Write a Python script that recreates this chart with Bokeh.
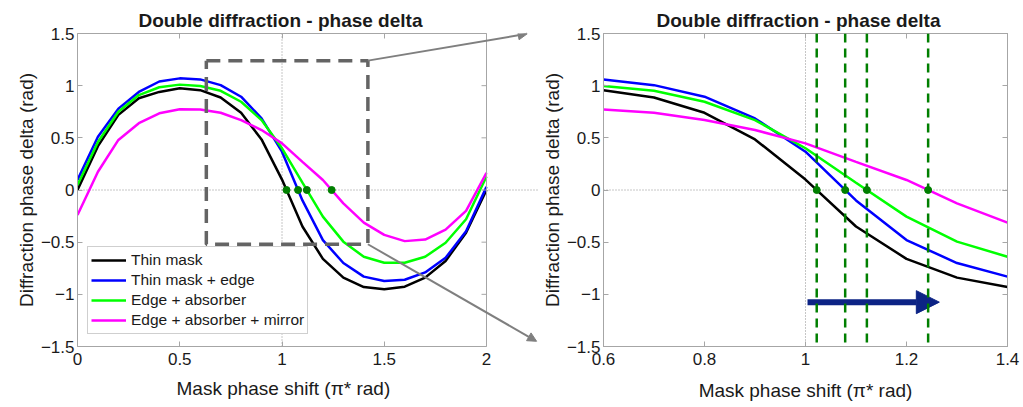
import numpy as np
from bokeh.plotting import figure
from bokeh.layouts import row
from bokeh.models import (Span, Legend, LegendItem, Arrow, NormalHead, FixedTicker,
                          CustomJSTickFormatter, LinearAxis, Range1d, Title)
from bokeh.embed import file_html
from bokeh.resources import INLINE

# ---- data -------------------------------------------------------------
phase_shift = [0.0, 0.1, 0.2, 0.3, 0.4, 0.5, 0.6, 0.7, 0.8, 0.9, 1.0,
               1.1, 1.2, 1.3, 1.4, 1.5, 1.6, 1.7, 1.8, 1.9, 2.0]

thin_mask = [0.0, 0.42, 0.72, 0.88, 0.94, 0.975, 0.957, 0.887, 0.74, 0.485, 0.10,
             -0.35, -0.66, -0.84, -0.93, -0.952, -0.927, -0.84, -0.68, -0.41, 0.0]
thin_mask_edge = [0.096, 0.51, 0.78, 0.94, 1.04, 1.07, 1.06, 1.005, 0.894, 0.686, 0.367,
                  -0.10, -0.48, -0.70, -0.83, -0.873, -0.86, -0.79, -0.65, -0.395, 0.03]
edge_absorber = [0.048, 0.46, 0.75, 0.91, 0.985, 1.01, 0.996, 0.951, 0.846, 0.67, 0.40,
                 0.07, -0.255, -0.495, -0.64, -0.697, -0.697, -0.64, -0.506, -0.28, 0.13]
edge_absorber_mirror = [-0.24, 0.175, 0.48, 0.64, 0.735, 0.773, 0.772, 0.74, 0.67, 0.575, 0.447,
                        0.27, 0.096, -0.128, -0.313, -0.43, -0.49, -0.475, -0.38, -0.2, 0.165]

series = [thin_mask, thin_mask_edge, edge_absorber, edge_absorber_mirror]
series_labels = ["Thin mask", "Thin mask + edge", "Edge + absorber", "Edge + absorber + mirror"]
series_colors = ["#000000", "#0000ff", "#00ff00", "#ff00ff"]

x_ticks_full = [0, 0.5, 1, 1.5, 2]
x_ticks_zoom = [0.6, 0.8, 1.0, 1.2, 1.4]
y_ticks = [-1.5, -1, -0.5, 0, 0.5, 1, 1.5]

TITLE = "Double diffraction - phase delta"
X_LABEL = "Mask phase shift (\u03c0* rad)"
Y_LABEL = "Diffraction phase delta (rad)"

# zoomed window marked on the full-range panel (x0, x1, y0, y1)
zoom_box = (0.63, 1.42, -0.52, 1.24)
# callout arrow tips, in the full-range panel's data units
callout_tips = [(2.199, 1.497), (2.245, -1.45)]
# phase-shift arrow on the zoomed panel: x start, x end, level
shift_arrow = (1.004, 1.265, -1.075)

FONT = "Liberation Sans"
FRAME = "#a6a6a6"
TEXT = "#1a1a1a"
DARK_GREEN = "#007f00"

# page geometry (pixels)
H = 407
LEFT_W, RIGHT_W = 538, 485
BORDER_TOP, BORDER_BOTTOM = 33, 60
L_AXIS = 77            # left edge of the full-range box
L_BOX_RIGHT = 486      # right edge of the full-range box
R_AXIS = 59            # room for the zoomed panel's y axis
R_RIGHT = 16

X_MIN, X_MAX = 0.0, 2.0
Y_MIN, Y_MAX = -1.5, 1.5
# the left canvas frame runs past the box so the callout arrows can leave it
x_frame_max = X_MIN + (X_MAX - X_MIN) * (LEFT_W - L_AXIS) / (L_BOX_RIGHT - L_AXIS)


def zero_crossing(x, y, after=0.5):
    """First descending zero crossing of y(x) beyond `after`, linearly interpolated."""
    for i in range(len(x) - 1):
        if x[i] >= after and y[i] > 0 >= y[i + 1]:
            return x[i] + (x[i + 1] - x[i]) * y[i] / (y[i] - y[i + 1])
    return None


crossings = [zero_crossing(phase_shift, s) for s in series]

fmt = CustomJSTickFormatter(code="""
const v = Math.round(tick * 100) / 100;
return (v < 0 ? "\u2212" : "") + Math.abs(v).toString();
""")


def style_axis(ax, ticks):
    ax.ticker = FixedTicker(ticks=ticks)
    ax.formatter = fmt
    ax.axis_line_color = FRAME
    ax.major_tick_line_color = FRAME
    ax.major_tick_in = 5
    ax.major_tick_out = 0
    ax.minor_tick_line_color = None
    ax.major_label_text_font = FONT
    ax.major_label_text_font_size = "17px"
    ax.major_label_text_color = TEXT
    ax.axis_label_text_font = FONT
    ax.axis_label_text_font_size = "19px"
    ax.axis_label_text_font_style = "normal"
    ax.axis_label_text_color = TEXT


def tick_only_axis(ticks, **kw):
    return LinearAxis(ticker=FixedTicker(ticks=ticks), major_label_text_font_size="1px",
                      major_label_text_color=None, major_label_standoff=0,
                      axis_line_color=FRAME, major_tick_line_color=FRAME,
                      major_tick_in=5, major_tick_out=0, minor_tick_line_color=None, **kw)


def make_panel(width, x_range, border_left, border_right, x_ticks, title_offset):
    p = figure(width=width, height=H, x_range=Range1d(*x_range), y_range=Range1d(Y_MIN, Y_MAX),
               output_backend="svg", toolbar_location=None,
               min_border_left=border_left, min_border_right=border_right,
               min_border_top=BORDER_TOP, min_border_bottom=BORDER_BOTTOM,
               title=TITLE)
    p.title.align = "left"
    p.title.offset = title_offset
    p.title.text_font = FONT
    p.title.text_font_size = "19px"
    p.title.text_font_style = "bold"
    p.title.text_color = TEXT
    p.title.standoff = 6
    p.grid.visible = False
    p.background_fill_color = "white"
    p.border_fill_color = "white"

    style_axis(p.xaxis[0], x_ticks)
    style_axis(p.yaxis[0], y_ticks)
    p.xaxis[0].major_label_standoff = 6
    p.xaxis[0].axis_label_standoff = 12
    p.yaxis[0].axis_label = Y_LABEL
    p.yaxis[0].major_label_standoff = 3
    p.yaxis[0].axis_label_standoff = 1

    # dotted reference lines at zero delta and at a phase shift of pi
    p.add_layout(Span(location=0, dimension="width", line_color="#8c8c8c",
                      line_dash="1 2", line_width=1, level="underlay"))
    p.add_layout(Span(location=1, dimension="height", line_color="#8c8c8c",
                      line_dash="1 2", line_width=1, level="underlay"))

    renderers = []
    for s, c in zip(series, series_colors):
        renderers.append(p.line(phase_shift, s, line_color=c, line_width=2.5))
    return p, renderers


# ---- full-range panel -------------------------------------------------
left, left_lines = make_panel(LEFT_W, (X_MIN, x_frame_max), L_AXIS, 0, x_ticks_full, 61)
left.outline_line_color = None
left.xaxis[0].bounds = (X_MIN, X_MAX)
left.add_layout(tick_only_axis(x_ticks_full, bounds=(X_MIN, X_MAX)), "above")
# right edge of the box with its inward ticks
left.add_layout(Span(location=X_MAX, dimension="height", line_color=FRAME, line_width=1))
left.ray(x=[X_MAX] * len(y_ticks), y=y_ticks, length=5, length_units="screen",
         angle=np.pi, line_color=FRAME, line_width=1)
# x-axis title placed under the box rather than centred on the wider canvas frame
left.add_layout(Title(text=X_LABEL, align="left", offset=99, standoff=17,
                      text_font=FONT, text_font_size="19px", text_font_style="normal",
                      text_color=TEXT), "below")

bx0, bx1, by0, by1 = zoom_box
left.line([bx0, bx1, bx1, bx0, bx0], [by1, by1, by0, by0, by1],
          line_color="#646464", line_width=3.5, line_dash="14 8")

left.scatter(crossings, [0] * len(crossings), size=7, color=DARK_GREEN)

for tx, ty in callout_tips:
    ystart = by1 if ty > 0 else by0
    left.add_layout(Arrow(x_start=bx1, y_start=ystart, x_end=tx, y_end=ty,
                          line_color="#7f7f7f", line_width=2,
                          end=NormalHead(size=9, fill_color="#7f7f7f", line_color="#7f7f7f")))

legend = Legend(items=[LegendItem(label=l, renderers=[r]) for l, r in zip(series_labels, left_lines)],
                location=(10, 12), margin=0, padding=3, spacing=0,
                glyph_width=35, glyph_height=20, label_height=20, label_standoff=5,
                label_text_font=FONT, label_text_font_size="15.5px", label_text_color=TEXT,
                border_line_color="#a0a0a0", border_line_width=1,
                background_fill_color="white", background_fill_alpha=1)
left.add_layout(legend)

# ---- zoomed panel -----------------------------------------------------
right, _ = make_panel(RIGHT_W, (0.6, 1.4), R_AXIS, R_RIGHT, x_ticks_zoom, 53)
right.xaxis[0].axis_label = X_LABEL
right.outline_line_color = FRAME
right.add_layout(tick_only_axis(x_ticks_zoom), "above")
right.add_layout(tick_only_axis(y_ticks), "right")

sx0, sx1, sy = shift_arrow
right.add_layout(Arrow(x_start=sx0, y_start=sy, x_end=sx1, y_end=sy,
                       line_color="#0c2385", line_width=6,
                       end=NormalHead(size=23, fill_color="#0c2385", line_color="#0c2385")))

for c in crossings:
    right.add_layout(Span(location=c, dimension="height", line_color=DARK_GREEN,
                          line_width=2.5, line_dash="9 6"))

right.scatter(crossings, [0] * len(crossings), size=7, color=DARK_GREEN)

layout = row(left, right)
open("out.html", "w").write(file_html(layout, INLINE))
